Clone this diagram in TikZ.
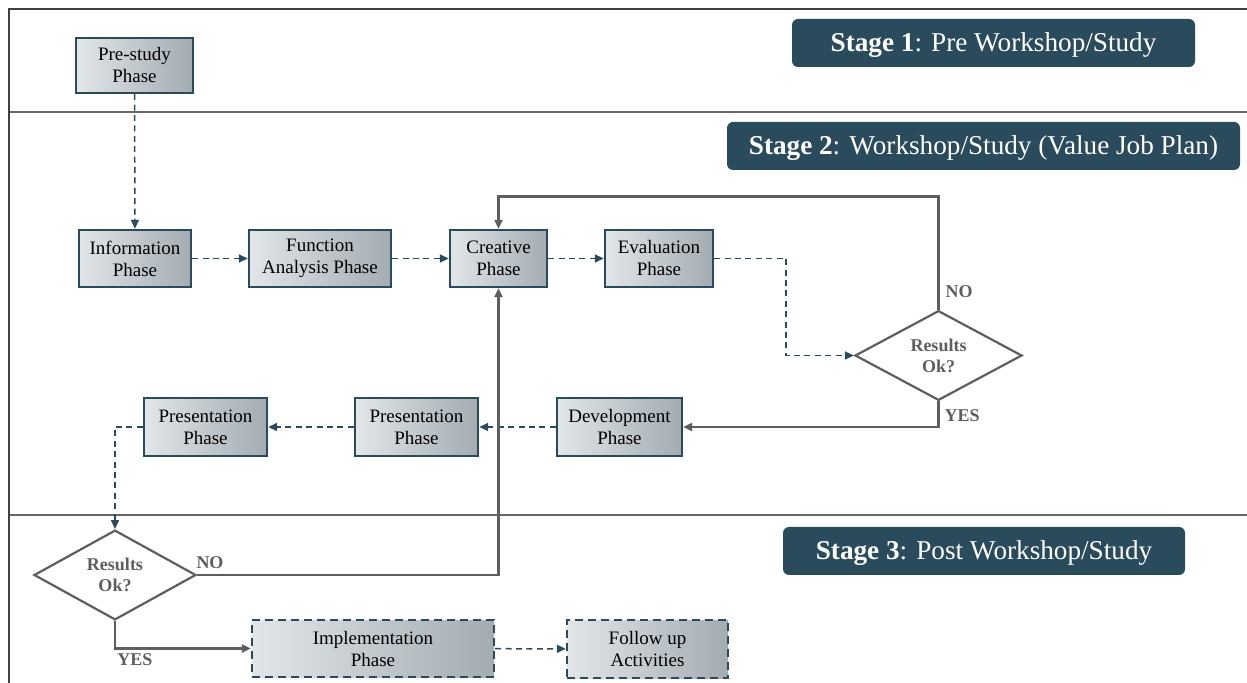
\documentclass[tikz,border=0pt]{standalone}
\usepackage{fontspec}
\setmainfont{Liberation Serif}
\usetikzlibrary{shapes.geometric,arrows.meta}
\definecolor{teal}{HTML}{2A4B5B}
\definecolor{glight}{HTML}{E2E6E9}
\definecolor{gdark}{HTML}{A3ACB2}
\definecolor{lgray}{HTML}{5E5E5E}
\definecolor{frame}{HTML}{404040}
\tikzset{
  phase/.style={draw=teal, line width=1.2pt, left color=glight, right color=gdark,
    inner sep=0pt, align=center, font=\fontsize{9.5}{11}\selectfont},
  phasedash/.style={phase, dash pattern=on 4pt off 2.5pt},
  decision/.style={diamond, draw=lgray, line width=1.1pt, fill=white, inner sep=0pt,
    align=center, text=lgray, font=\bfseries\fontsize{9}{10.5}\selectfont},
  stagebox/.style={fill=teal, rounded corners=3pt, inner sep=0pt, text=white,
    text height=9pt, text depth=0.5pt,
    font=\fontsize{13.6}{15}\selectfont},
  lbl/.style={text=lgray, font=\bfseries\fontsize{9}{10}\selectfont, inner sep=0pt},
  dflow/.style={draw=teal, line width=0.75pt, dash pattern=on 3pt off 2.2pt,
    -{Triangle[length=4.5pt,width=4pt]}},
  sflow/.style={draw=lgray, line width=1.1pt, -{Triangle[length=4.5pt,width=4pt]}},
  divider/.style={draw=frame!80, line width=1pt}
}
\begin{document}
\begin{tikzpicture}[x=0.5pt,y=-0.5pt]
\useasboundingbox (0,0) rectangle (1247,683);
% frame
\draw[divider] (9,112) coordinate (l1) -- (1247,112) coordinate (r1);
\draw[divider] (9,515) coordinate (l2) -- (1247,515) coordinate (r2);
\draw[draw=frame, line width=1pt] (1247,9) coordinate (tr) -- (9,9) coordinate (tl) -- (9,683) coordinate (bl);
% stage headers
\node[stagebox, minimum width=201.5pt, minimum height=24pt] (s1) at (993.5,43) {\textbf{Stage 1}: Pre Workshop/Study};
\node[stagebox, minimum width=256.5pt, minimum height=24pt] (s2) at (983.5,146) {\textbf{Stage 2}: Workshop/Study (Value Job Plan)};
\node[stagebox, minimum width=201pt, minimum height=24pt] (s3) at (984,551) {\textbf{Stage 3}: Post Workshop/Study};
% phases
\node[phase, minimum width=58.5pt, minimum height=27.5pt] (pre) at (134.5,65.5) {Pre-study\\Phase};
\node[phase, minimum width=56pt, minimum height=28.5pt] (info) at (135,258.5) {Information\\Phase};
\node[phase, minimum width=71pt, minimum height=28.5pt] (func) at (320,258.5) {Function\\Analysis Phase};
\node[phase, minimum width=48.5pt, minimum height=28.5pt] (crea) at (498.5,258.5) {Creative\\Phase};
\node[phase, minimum width=54pt, minimum height=28.5pt] (eval) at (659,258.5) {Evaluation\\Phase};
\node[decision, minimum width=83.5pt, minimum height=42.5pt] (d1) at (938.5,355.5) {Results\\Ok?};
\node[phase, minimum width=62.5pt, minimum height=29pt] (dev) at (619.5,427) {Development\\Phase};
\node[phase, minimum width=61.5pt, minimum height=29pt] (pres2) at (416.5,427) {Presentation\\Phase};
\node[phase, minimum width=61.5pt, minimum height=29pt] (pres1) at (205.5,427) {Presentation\\Phase};
\node[decision, minimum width=81pt, minimum height=44pt] (d2) at (115,575) {Results\\Ok?};
\node[phasedash, minimum width=121pt, minimum height=28.5pt] (impl) at (373,648.5) {Implementation\\Phase};
\node[phasedash, minimum width=80.5pt, minimum height=29pt] (fol) at (647.5,649) {Follow up\\Activities};
% labels
\node[lbl] (no1) at (959,292) {NO};
\node[lbl] (yes1) at (962,416) {YES};
\node[lbl] (no2) at (210,563) {NO};
\node[lbl] (yes2) at (135,660) {YES};
% connectors
\draw[dflow] (pre) -- (info);
\draw[dflow] (info) -- (func);
\draw[dflow] (func) -- (crea);
\draw[dflow] (crea) -- (eval);
\draw[dflow] (eval.east) -- ++(72,0) |- (d1.west);
\draw[sflow] (d1.north) -- ++(0,-113) -| (crea.north);
\draw[sflow] (d1.south) |- (dev.east);
\draw[dflow] (dev) -- (pres2);
\draw[dflow] (pres2) -- (pres1);
\draw[dflow] (pres1.west) -| (d2.north);
\draw[sflow] (d2.east) -| (crea.south);
\draw[sflow] (d2.south) |- (impl.west);
\draw[dflow] (impl) -- (fol);
\end{tikzpicture}
\end{document}
